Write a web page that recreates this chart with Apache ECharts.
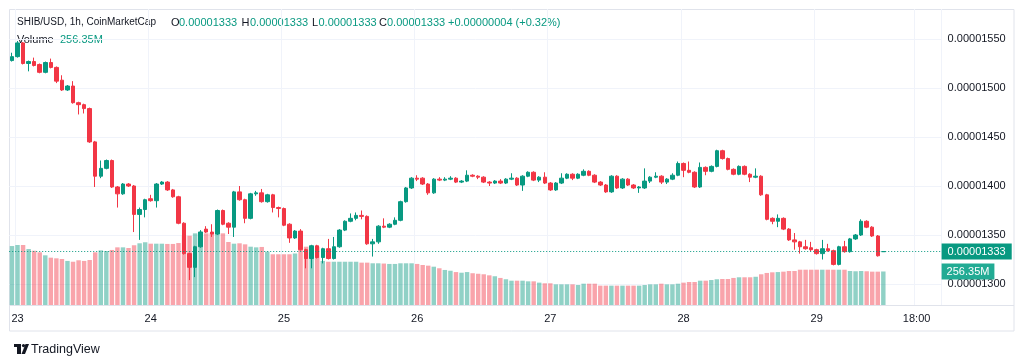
<!DOCTYPE html>
<html><head><meta charset="utf-8">
<script src="https://cdn.jsdelivr.net/npm/echarts@6/dist/echarts.min.js"></script>
<style>html,body{margin:0;padding:0;background:#fff}#c{width:1024px;height:364px}</style>
</head><body><div id="c"></div>
<script>
// prices in units of 1e-8 USD, hourly candles from 22 23:00 to 29 10:00
const PRICE_UNIT = 1e-8;
const opens = [
1528,1532,1546,1525,1527,1524,1516,1526,1521,1508,
1498,1502,1485,1483,1479,1445,1410,1418,1426,1399,
1392,1402,1400,1371,1376,1387,1385,1402,1404,1396,
1389,1362,1331,1317,1338,1356,1353,1351,1375,1362,
1358,1394,1386,1367,1392,1393,1384,1391,1378,1377,
1361,1347,1354,1335,1326,1339,1327,1336,1326,1338,
1355,1364,1367,1370,1369,1341,1343,1359,1358,1361,
1365,1384,1398,1408,1408,1402,1393,1407,1406,1407,
1408,1404,1405,1411,1410,1409,1404,1403,1405,1403,
1407,1408,1401,1410,1414,1406,1409,1403,1396,1403,
1408,1412,1408,1411,1415,1411,1404,1401,1394,1410,
1398,1407,1401,1398,1398,1405,1409,1410,1404,1407,
1411,1423,1416,1414,1399,1419,1415,1420,1436,1428,
1417,1412,1420,1412,1409,1410,1391,1367,1364,1367,
1356,1345,1343,1338,1337,1335,1331,1336,1334,1320,
1338,1333,1346,1350,1364,1358,1349,1333.05];
const closes = [
1532,1546,1525,1527,1523,1516,1526,1521,1507,1498,
1502,1485,1483,1479,1445,1410,1418,1426,1399,1392,
1402,1400,1371,1376,1386,1385,1402,1404,1396,1389,
1362,1331,1317,1338,1353,1353,1351,1375,1361,1358,
1394,1386,1367,1392,1393,1384,1391,1378,1377,1360,
1347,1354,1335,1326,1339,1327,1336,1326,1338,1355,
1364,1367,1370,1369,1341,1343,1359,1358,1361,1365,
1384,1398,1408,1407,1402,1393,1407,1406,1407,1408,
1404,1405,1411,1410,1409,1404,1403,1405,1403,1407,
1408,1401,1410,1414,1406,1409,1403,1396,1403,1408,
1412,1408,1412,1415,1411,1404,1401,1394,1410,1398,
1407,1401,1398,1399,1405,1409,1410,1404,1407,1411,
1423,1416,1414,1399,1419,1415,1420,1436,1428,1417,
1412,1420,1412,1409,1410,1391,1366,1364,1367,1356,
1345,1343,1338,1336,1335,1331,1336,1334,1320,1338,
1333,1346,1350,1364,1358,1349,1328.8,1333.05];
const highs = [
1536,1548,1547,1528,1531,1525,1527,1530,1522,1513,
1503,1507,1486,1484,1480,1446,1426,1427,1427,1400,
1403,1403,1401,1378,1387,1391,1403,1405,1405,1397,
1390,1363,1332,1339,1355,1359,1361,1376,1376,1363,
1395,1400,1387,1393,1395,1397,1392,1392,1379,1378,
1362,1355,1356,1336,1340,1340,1337,1346,1348,1356,
1365,1372,1373,1375,1370,1346,1360,1367,1362,1368,
1385,1399,1409,1411,1409,1403,1408,1409,1409,1410,
1409,1406,1416,1412,1411,1410,1405,1406,1407,1408,
1413,1409,1411,1415,1415,1410,1414,1404,1404,1413,
1413,1413,1413,1417,1416,1412,1405,1402,1411,1411,
1408,1408,1402,1400,1418,1410,1414,1411,1408,1413,
1425,1424,1425,1415,1424,1420,1421,1437,1437,1429,
1418,1421,1421,1413,1418,1411,1392,1368,1371,1368,
1357,1352,1344,1345,1343,1336,1345,1341,1335,1339,
1344,1347,1351,1366,1365,1359,1350,1333.05];
const lows = [
1527,1531,1524,1517,1522,1515,1515,1520,1505,1497,
1497,1484,1473,1474,1444,1399,1408,1417,1398,1378,
1391,1399,1353,1345,1368,1384,1378,1401,1395,1388,
1361,1330,1304,1307,1337,1352,1348,1350,1360,1351,
1348,1385,1362,1366,1390,1383,1383,1373,1368,1359,
1342,1346,1334,1316,1316,1326,1321,1325,1325,1337,
1354,1363,1365,1366,1340,1328,1341,1357,1357,1360,
1364,1383,1397,1405,1401,1391,1392,1405,1405,1406,
1403,1403,1404,1409,1407,1403,1400,1402,1402,1402,
1406,1400,1395,1409,1405,1404,1402,1395,1395,1402,
1407,1406,1407,1410,1410,1403,1400,1393,1393,1397,
1397,1400,1397,1393,1397,1403,1408,1402,1402,1406,
1410,1409,1413,1398,1398,1411,1414,1419,1427,1416,
1411,1411,1411,1404,1408,1390,1365,1361,1358,1355,
1344,1335,1331,1335,1333,1330,1325,1333,1319,1319,
1332,1332,1345,1349,1357,1348,1328,1333.05];
// volume in millions
const volumes = [
451,459,459,428,415,403,380,362,357,352,
337,331,342,337,344,403,418,413,421,441,
441,436,457,472,480,469,469,469,467,467,
474,530,530,548,561,548,548,548,548,482,
469,472,464,446,441,444,408,388,388,388,
388,394,421,446,446,446,337,331,331,331,
331,331,331,324,324,319,319,317,314,314,
319,319,319,314,306,301,293,281,268,262,
252,247,252,243,239,235,227,220,207,197,
186,186,186,181,181,171,166,166,158,158,
158,158,153,163,163,163,148,148,148,148,
148,148,148,148,153,158,158,163,158,158,
163,171,176,176,186,186,191,197,199,199,
207,212,212,212,216,235,245,250,252,255,
260,260,270,270,270,270,270,270,270,270,
270,260,258,260,258,255,255,256.35];
const priceTicks = [1300,1350,1400,1450,1500,1550];
const tickCats = ['23 00:00','24 00:00','25 00:00','26 00:00','27 00:00','28 00:00','29 00:00','29 18:00'];
const tickTexts = ['23','24','25','26','27','28','29','18:00'];
const firstHour = -1;     // first candle: 22 23:00
const slotCount = 168;    // hourly slots on the time axis (incl. empty right margin)

function pad(n){return (n<10?'0':'')+n;}
const categories = [];
for (let k=0;k<slotCount;k++){
  const h = firstHour + k;
  const day = 23 + Math.floor(h/24);
  const hh = ((h%24)+24)%24;
  categories.push(day+' '+pad(hh)+':00');
}
const candleData = opens.map((o,i)=>[o, closes[i], lows[i], highs[i]]);
const UP='#089981', DOWN='#f23645';
const volData = volumes.map((v,i)=>({value:v, itemStyle:{color: closes[i]>=opens[i] ? 'rgba(8,153,129,0.45)' : 'rgba(242,54,69,0.45)'}}));
const fmtPrice = v => (v*PRICE_UNIT).toFixed(8);
const last = closes.length-1;
const chg = closes[last]-closes[last-1];
const chgPct = (chg/closes[last-1]*100).toFixed(2);
const isTick = (idx,val)=> tickCats.indexOf(val) >= 0;
const FONT = '"Liberation Sans", Arial, sans-serif';
const TXT = '#131722';

const chart = echarts.init(document.getElementById('c'), null, {renderer:'canvas'});
const gridL = 9.2, gridR = 82.4;
chart.setOption({
  animation:false,
  backgroundColor:'#ffffff',
  grid:[
    {left:gridL, right:gridR, top:-10, bottom:31, containLabel:false, outerBoundsMode:'none'},
    {left:gridL, right:gridR, top:9, bottom:59, containLabel:false, outerBoundsMode:'none'}
  ],
  xAxis:[
    {type:'category', gridIndex:0, data:categories, boundaryGap:true,
     axisLine:{show:false}, axisTick:{show:false}, axisLabel:{show:false}, splitLine:{show:false}},
    {type:'category', gridIndex:1, data:categories, boundaryGap:true,
     axisLine:{show:false}, axisTick:{show:false},
     axisLabel:{show:true, interval:isTick, formatter:(v)=>tickTexts[tickCats.indexOf(v)]||'', color:TXT, fontSize:11, fontFamily:FONT, margin:8},
     splitLine:{show:true, interval:isTick, lineStyle:{color:'#f0f3fa', width:1}}}
  ],
  yAxis:[
    {type:'value', gridIndex:0, position:'right', min:1250, max:1600, interval:50,
     axisLine:{show:false}, axisTick:{show:false},
     axisLabel:{show:true, margin:6, color:TXT, fontSize:11, fontFamily:FONT,
       formatter:v=> priceTicks.indexOf(v)>=0 ? fmtPrice(v) : ''},
     splitLine:{show:true, showMinLine:false, showMaxLine:false, lineStyle:{color:'#f0f3fa', width:1}}},
    {type:'value', gridIndex:1, min:0, max:2264, show:false, splitLine:{show:false}}
  ],
  series:[
    {type:'bar', xAxisIndex:1, yAxisIndex:1, data:volData, barCategoryGap:'20%', z:1, silent:true,
     markLine:{silent:true, symbol:['none','none'], animation:false,
       lineStyle:{color:'rgba(0,0,0,0)', width:0},
       label:{show:true, position:'end', distance:0, formatter:()=>volumes[last].toFixed(2)+'M',
         backgroundColor:'#22ab94', color:'#ffffff', fontSize:11, fontFamily:FONT, padding:[3,5,2,5]},
       data:[{yAxis:volumes[last]}]}},
    {type:'candlestick', xAxisIndex:0, yAxisIndex:0, data:candleData, barWidth:'72%', z:3, silent:true,
     itemStyle:{color:UP, color0:DOWN, borderColor:UP, borderColor0:DOWN, borderWidth:1},
     markLine:{silent:true, symbol:['none','none'], animation:false, z:4,
       lineStyle:{color:UP, type:[1,2], width:1},
       label:{show:true, position:'end', distance:0, formatter:()=>fmtPrice(closes[last]),
         backgroundColor:UP, color:'#ffffff', fontSize:11, fontFamily:FONT, padding:[3,6,2,6]},
       data:[{yAxis:closes[last]}]}}
  ],
  graphic:[
    {type:'rect', shape:{x:9.5,y:9.5,width:1004.5,height:321.5}, style:{fill:'none', stroke:'#e0e3eb', lineWidth:1}, z:-1, silent:true},
    {type:'line', shape:{x1:9.5,y1:305.5,x2:1014,y2:305.5}, style:{stroke:'#e0e3eb', lineWidth:1}, silent:true},
    {type:'text', left:17, top:17.5, style:{text:'SHIB/USD, 1h, CoinMarketCap', fill:TXT, font:'10px '+FONT}},
    {type:'text', left:171, top:17, style:{text:'O', fill:TXT, font:'11px '+FONT}},
    {type:'text', left:179, top:17, style:{text:fmtPrice(opens[last]), fill:UP, font:'11px '+FONT}},
    {type:'text', left:241.5, top:17, style:{text:'H', fill:TXT, font:'11px '+FONT}},
    {type:'text', left:250, top:17, style:{text:fmtPrice(highs[last]), fill:UP, font:'11px '+FONT}},
    {type:'text', left:312, top:17, style:{text:'L', fill:TXT, font:'11px '+FONT}},
    {type:'text', left:318.5, top:17, style:{text:fmtPrice(lows[last]), fill:UP, font:'11px '+FONT}},
    {type:'text', left:379, top:17, style:{text:'C', fill:TXT, font:'11px '+FONT}},
    {type:'text', left:387, top:17, style:{text:fmtPrice(closes[last]), fill:UP, font:'11px '+FONT}},
    {type:'text', left:448, top:17, style:{text:'+'+fmtPrice(chg)+' (+'+chgPct+'%)', fill:UP, font:'11px '+FONT}},
    {type:'text', left:17, top:34, style:{text:'Volume', fill:TXT, font:'11px '+FONT}},
    {type:'text', left:60, top:34, style:{text:volumes[last].toFixed(2)+'M', fill:UP, font:'11px '+FONT}},
    {type:'group', left:14, top:344, children:[
      {type:'rect', shape:{x:0,y:0,width:7,height:3}, style:{fill:'#131722'}},
      {type:'rect', shape:{x:3,y:0,width:4,height:10}, style:{fill:'#131722'}},
      {type:'circle', shape:{cx:9.5,cy:1.6,r:1.6}, style:{fill:'#131722'}},
      {type:'polygon', shape:{points:[[11.5,0],[15,0],[11,10],[7.5,10]]}, style:{fill:'#131722'}}
    ]},
    {type:'text', left:31, top:343, style:{text:'TradingView', fill:TXT, font:'12.5px '+FONT}}
  ]
});
</script></body></html>
